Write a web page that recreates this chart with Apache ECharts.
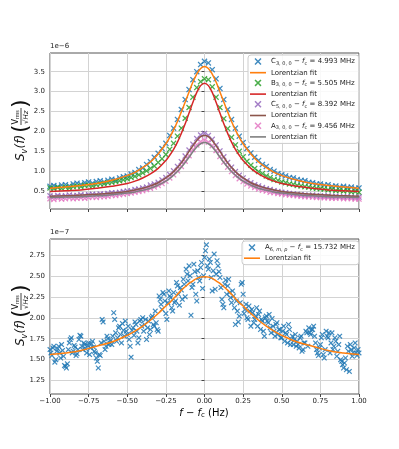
<!DOCTYPE html>
<html>
<head>
<meta charset="utf-8">
<script src="https://cdn.jsdelivr.net/npm/echarts@6/dist/echarts.min.js"></script>
<style>
html, body { margin: 0; padding: 0; background: #fff; }
#chart { width: 399px; height: 449px; }
</style>
</head>
<body>
<div id="chart"></div>
<script>
// sample positions (f - fc, Hz)
const freqTop = Array.from({ length: 81 }, (_, i) => -1 + i * 0.025);
const freqBottom = Array.from({ length: 161 }, (_, i) => -1 + i * 0.0125);
const freqBottomMid = Array.from({ length: 160 }, (_, i) => -0.99375 + i * 0.0125);
const fitX = [-1, -0.9, -0.8, -0.7, -0.6, -0.5, -0.45, -0.4, -0.35, -0.3, -0.25, -0.225, -0.2, -0.175, -0.15, -0.125, -0.1, -0.075, -0.05, -0.025,
  0, 0.025, 0.05, 0.075, 0.1, 0.125, 0.15, 0.175, 0.2, 0.225, 0.25, 0.3, 0.35, 0.4, 0.45, 0.5, 0.6, 0.7, 0.8, 0.9, 1];

// top panel, units of 1e-6
const dataC3 = [0.62,0.64,0.61,0.65,0.66,0.63,0.68,0.70,0.67,0.71,0.73,0.70,0.74,0.76,0.73,0.77,0.80,0.78,0.83,0.86,
  0.88,0.93,0.97,1.04,1.08,1.17,1.24,1.35,1.45,1.57,1.70,1.90,2.08,2.30,2.55,2.80,3.05,3.30,3.50,3.68,
  3.76,
  3.72,3.55,3.32,3.08,2.80,2.55,2.30,2.08,1.88,1.72,1.57,1.46,1.35,1.27,1.17,1.12,1.04,1.00,0.94,0.91,
  0.88,0.84,0.83,0.79,0.77,0.76,0.72,0.71,0.68,0.68,0.65,0.66,0.62,0.63,0.60,0.62,0.59,0.60,0.57,0.58];
const dataB3 = [0.58,0.56,0.59,0.57,0.60,0.58,0.61,0.63,0.61,0.64,0.65,0.63,0.66,0.68,0.68,0.71,0.72,0.74,0.76,0.78,
  0.81,0.84,0.87,0.91,0.96,1.01,1.07,1.13,1.22,1.31,1.42,1.55,1.70,1.88,2.08,2.33,2.60,2.86,3.10,3.25,
  3.32,
  3.30,3.12,2.86,2.60,2.32,2.07,1.85,1.66,1.50,1.36,1.25,1.15,1.07,0.99,0.94,0.88,0.84,0.79,0.77,0.73,
  0.71,0.68,0.67,0.64,0.63,0.61,0.60,0.58,0.57,0.56,0.55,0.53,0.54,0.51,0.52,0.50,0.51,0.48,0.49,0.47];
const dataC5 = [0.38,0.36,0.39,0.37,0.38,0.40,0.38,0.39,0.41,0.39,0.41,0.42,0.41,0.43,0.42,0.44,0.46,0.45,0.47,0.49,
  0.50,0.51,0.54,0.55,0.58,0.60,0.65,0.68,0.72,0.78,0.84,0.92,1.01,1.12,1.24,1.38,1.53,1.68,1.82,1.91,
  1.95,
  1.90,1.80,1.66,1.51,1.36,1.22,1.10,0.99,0.90,0.83,0.76,0.71,0.66,0.63,0.59,0.56,0.54,0.51,0.49,0.47,
  0.46,0.44,0.43,0.42,0.41,0.40,0.39,0.40,0.38,0.38,0.37,0.38,0.36,0.37,0.36,0.35,0.36,0.35,0.34,0.35];
const dataA3 = [0.31,0.29,0.32,0.30,0.31,0.33,0.31,0.32,0.33,0.32,0.34,0.35,0.34,0.36,0.36,0.37,0.39,0.39,0.41,0.42,
  0.44,0.45,0.47,0.49,0.51,0.54,0.57,0.60,0.64,0.69,0.75,0.83,0.91,1.01,1.12,1.25,1.39,1.54,1.66,1.74,
  1.78,
  1.73,1.64,1.52,1.37,1.23,1.10,0.99,0.89,0.81,0.74,0.68,0.63,0.59,0.55,0.52,0.50,0.47,0.46,0.44,0.43,
  0.41,0.40,0.39,0.38,0.37,0.36,0.36,0.35,0.34,0.34,0.33,0.33,0.32,0.32,0.33,0.31,0.32,0.31,0.30,0.30];

const fitC3 = [0.57,0.60,0.64,0.69,0.77,0.89,0.97,1.09,1.23,1.43,1.69,1.85,2.04,2.25,2.49,2.74,2.99,3.24,3.44,3.58,
  3.63,3.58,3.44,3.24,2.99,2.74,2.49,2.25,2.04,1.85,1.69,1.43,1.23,1.09,0.97,0.89,0.77,0.69,0.64,0.60,0.57];
const fitB3 = [0.49,0.51,0.53,0.57,0.62,0.69,0.75,0.83,0.93,1.07,1.27,1.40,1.55,1.73,1.95,2.19,2.46,2.73,2.98,3.15,
  3.21,3.15,2.98,2.73,2.46,2.19,1.95,1.73,1.55,1.40,1.27,1.07,0.93,0.83,0.75,0.69,0.62,0.57,0.53,0.51,0.49];
const fitC5 = [0.37,0.38,0.40,0.42,0.45,0.49,0.53,0.57,0.63,0.71,0.83,0.90,0.99,1.09,1.21,1.35,1.50,1.64,1.77,1.87,
  1.90,1.87,1.77,1.64,1.50,1.35,1.21,1.09,0.99,0.90,0.83,0.71,0.63,0.57,0.53,0.49,0.45,0.42,0.40,0.38,0.37];
const fitA3 = [0.34,0.35,0.36,0.38,0.41,0.45,0.48,0.52,0.57,0.65,0.75,0.82,0.90,0.99,1.10,1.22,1.35,1.49,1.61,1.69,
  1.72,1.69,1.61,1.49,1.35,1.22,1.10,0.99,0.90,0.82,0.75,0.65,0.57,0.52,0.48,0.45,0.41,0.38,0.36,0.35,0.34];

// bottom panel, units of 1e-7
const dataA6 = [1.62,1.55,1.66,1.50,1.63,1.58,1.68,1.54, 1.42,1.45,1.70,1.76,1.60,1.65,1.57,1.74,
  1.78,1.62,1.68,1.58,1.70,1.64,1.72,1.60, 1.52,1.40,1.55,1.98,1.72,1.66,1.75,1.70,
  1.68,2.06,1.82,1.76,1.90,1.70,1.85,1.96, 1.80,1.74,1.53,1.88,1.95,1.84,1.76,1.98,
  2.00,1.92,1.74,1.96,1.86,2.02,1.90,1.94, 1.84,2.22,2.10,2.28,2.05,2.18,2.26,2.12,
  2.30,2.20,2.38,2.15,2.33,2.46,2.25,2.52, 2.62,2.03,2.40,2.55,2.20,2.48,2.60,2.35,
  2.72,2.87,2.58,2.66,2.32,2.76,2.52,2.62, 2.48,2.22,2.12,2.45,2.38,2.30,2.18,2.26,
  1.92,2.08,2.02,2.40,2.28,2.10,2.00,2.14, 1.90,2.06,1.98,2.12,2.04,1.86,1.96,1.78,
  2.02,1.94,1.88,1.99,1.84,1.92,1.80,1.86, 1.76,1.90,1.82,1.70,1.86,1.74,1.68,1.80,
  1.72,1.64,1.78,1.62,1.70,1.82,1.88,1.80, 1.86,1.78,1.62,1.55,1.68,1.80,1.52,1.84,
  1.76,1.58,1.82,1.66,1.72,1.60,1.78,1.48, 1.40,1.52,1.66,1.36,1.62,1.58,1.70,1.55,
  1.58];
const dataA6Mid = [1.58,1.64,1.47,1.60,1.66,1.52,1.61,1.43, 1.40,1.62,1.74,1.58,1.67,1.55,1.62,1.79,
  1.66,1.70,1.63,1.67,1.56,1.69,1.65,1.58, 1.48,1.56,1.70,1.95,1.62,1.78,1.68,1.73,
  1.78,1.98,1.72,1.88,1.80,1.93,1.78,1.84, 1.90,1.66,1.85,1.79,1.92,1.70,1.96,1.90,
  1.84,1.98,1.88,1.80,2.00,1.92,2.08,1.86, 2.26,2.16,2.30,2.20,1.98,2.32,2.24,2.08,
  2.18,2.42,2.28,2.36,2.22,2.40,2.58,2.44, 2.50,2.36,2.64,2.28,2.56,2.44,2.66,2.50,
  2.80,2.62,2.70,2.48,2.56,2.34,2.68,2.55, 2.36,2.16,2.40,2.28,2.46,2.24,2.32,2.12,
  2.20,1.95,2.18,2.42,2.05,2.16,1.98,2.08, 2.10,1.94,2.02,1.90,2.08,1.98,1.84,2.00,
  1.96,2.04,1.82,1.90,1.78,1.94,1.86,1.76, 1.84,1.72,1.80,1.92,1.68,1.78,1.74,1.66,
  1.68,1.76,1.60,1.70,1.84,1.66,1.82,1.86, 1.90,1.70,1.58,1.64,1.76,1.56,1.62,1.78,
  1.82,1.70,1.62,1.76,1.54,1.68,1.50,1.44, 1.46,1.38,1.60,1.68,1.54,1.64,1.58,1.62];
const fitA6 = [1.56,1.58,1.61,1.66,1.71,1.79,1.84,1.90,1.97,2.05,2.14,2.18,2.23,2.28,2.33,2.37,2.41,2.44,2.47,2.485,
  2.49,2.485,2.47,2.44,2.41,2.37,2.33,2.28,2.23,2.18,2.14,2.05,1.97,1.90,1.84,1.79,1.71,1.66,1.61,1.58,1.56];

const topTicks = [0.5, 1.0, 1.5, 2.0, 2.5, 3.0, 3.5];
const bottomTicks = [1.25, 1.5, 1.75, 2.0, 2.25, 2.5, 2.75];

const legendText = {
  C3: '{n|C}{s|3, 0, 0}{n| − }{i|f}{s|c}{n| = 4.993 MHz}',
  B3: '{n|B}{s|3, 0, 0}{n| − }{i|f}{s|c}{n| = 5.505 MHz}',
  C5: '{n|C}{s|5, 0, 0}{n| − }{i|f}{s|c}{n| = 8.392 MHz}',
  A3: '{n|A}{s|3, 0, 0}{n| − }{i|f}{s|c}{n| = 9.456 MHz}',
  A6: '{n|A}{s|6, }{si|m}{s|, }{si|p}{n| − }{i|f}{s|c}{n| = 15.732 MHz}'
};

const FONT = 'DejaVu Sans';
const xMark = 'path://M0,1.5L1.5,0L5,3.5L8.5,0L10,1.5L6.5,5L10,8.5L8.5,10L5,6.5L1.5,10L0,8.5L3.5,5Z';
const lineMark = 'path://M0,0L16,0L16,1.6L0,1.6Z';
const pts = (xs, ys) => ys.map((v, i) => [xs[i], v]);

const richStyle = {
  n: { fontSize: 7, fontFamily: FONT, color: '#222', lineHeight: 9 },
  i: { fontSize: 7, fontFamily: FONT, fontStyle: 'italic', color: '#222', lineHeight: 9 },
  s: { fontSize: 5, fontFamily: FONT, color: '#222', lineHeight: 5, verticalAlign: 'bottom' },
  si: { fontSize: 5, fontFamily: FONT, fontStyle: 'italic', color: '#222', lineHeight: 5, verticalAlign: 'bottom' }
};

function scatter(name, points, color, g, size) {
  return {
    name: name, type: 'scatter', xAxisIndex: g, yAxisIndex: g,
    data: points, symbol: xMark, symbolSize: size,
    itemStyle: { color: color, opacity: 0.85 }
  };
}
function fit(name, data, color, g) {
  return {
    name: name, type: 'line', xAxisIndex: g, yAxisIndex: g,
    data: pts(fitX, data), symbol: 'none', smooth: 0.4,
    lineStyle: { color: color, width: 1.5 }, itemStyle: { color: color }
  };
}

function yLabel(cx, cy) {
  const t = (x, y, text, font) => ({ type: 'text', x: x, y: y,
    style: { text: text, font: font, fill: '#111', verticalAlign: 'middle', align: 'left' } });
  return {
    type: 'group', x: cx, y: cy, rotation: Math.PI / 2,
    children: [
      t(-29, 0, 'S', 'italic 12px "DejaVu Sans"'),
      t(-21.5, 3.5, 'v', 'italic 8px "DejaVu Sans"'),
      t(-16.5, 0, '(f)', 'italic 12px "DejaVu Sans"'),
      t(-1, 0, '(', '22px "DejaVu Sans"'),
      t(7.5, -5, 'V', '8px "DejaVu Sans"'),
      t(12.5, -3.5, 'rms', '5px "DejaVu Sans"'),
      { type: 'line', shape: { x1: 7, y1: 0, x2: 24, y2: 0 }, style: { stroke: '#111', lineWidth: 0.8 } },
      t(8, 5, '√Hz', 'italic 7px "DejaVu Sans"'),
      t(24, 0, ')', '22px "DejaVu Sans"')
    ]
  };
}

function xAxis(g, labels) {
  return {
    type: 'value', gridIndex: g, min: -1, max: 1, interval: 0.25,
    axisLine: { show: false },
    axisTick: { show: true, length: 3, lineStyle: { color: '#444' } },
    axisLabel: { show: labels, fontSize: 7, fontFamily: FONT, color: '#222', margin: 4,
      formatter: v => v.toFixed(2).replace('-', '−') },
    splitLine: { show: true, lineStyle: { color: '#d3d3d3', width: 1 } }
  };
}
function yAxis(g, min, max, ticks, digits) {
  return {
    type: 'value', gridIndex: g, min: min, max: max,
    axisLine: { show: false },
    axisTick: { show: true, length: 3, customValues: ticks, lineStyle: { color: '#444' } },
    axisLabel: { fontSize: 7, fontFamily: FONT, color: '#222', margin: 5, customValues: ticks,
      formatter: v => v.toFixed(digits) },
    splitLine: { show: true, lineStyle: { color: '#d3d3d3', width: 1 } }
  };
}

function legendBox(left, top, gap, items) {
  return {
    left: left, top: top, orient: 'vertical', itemWidth: 16, itemHeight: 7, itemGap: gap,
    padding: [3, 4, 3, 2], backgroundColor: 'rgba(255,255,255,0.85)',
    borderColor: '#ccc', borderWidth: 1, borderRadius: 3,
    data: items.map(n => ({ name: n, icon: n.indexOf('fit') === 0 ? lineMark : xMark })),
    formatter: n => legendText[n] || '{n|Lorentzian fit}',
    textStyle: { rich: richStyle }
  };
}

const chart = echarts.init(document.getElementById('chart'));
chart.setOption({
  animation: false,
  backgroundColor: '#fff',
  grid: [
    { left: 50, top: 53, width: 309, height: 156, show: true, borderColor: '#555', borderWidth: 1 },
    { left: 50, top: 239, width: 309, height: 155, show: true, borderColor: '#555', borderWidth: 1 }
  ],
  xAxis: [xAxis(0, false), xAxis(1, true)],
  yAxis: [yAxis(0, 0.05, 3.97, topTicks, 1), yAxis(1, 1.09, 2.94, bottomTicks, 2)],
  legend: [
    legendBox(248, 55, 3.2, ['C3', 'fitC3', 'B3', 'fitB3', 'C5', 'fitC5', 'A3', 'fitA3']),
    legendBox(242, 241, 2.7, ['A6', 'fitA6'])
  ],
  graphic: [
    { type: 'text', x: 50, y: 46, style: { text: '1e−6', font: '7px "DejaVu Sans"', fill: '#222', verticalAlign: 'middle' } },
    { type: 'text', x: 50, y: 232, style: { text: '1e−7', font: '7px "DejaVu Sans"', fill: '#222', verticalAlign: 'middle' } },
    yLabel(21, 132),
    yLabel(21, 317),
    { type: 'text', x: 204, y: 413, style: {
      text: '{i|f}{n| − }{i|f}{s|c}{n| (Hz)}', align: 'center', verticalAlign: 'middle',
      rich: {
        n: { fontSize: 10, fontFamily: FONT, color: '#111', lineHeight: 12 },
        i: { fontSize: 10, fontFamily: FONT, fontStyle: 'italic', color: '#111', lineHeight: 12 },
        s: { fontSize: 7, fontFamily: FONT, color: '#111', lineHeight: 7, verticalAlign: 'bottom' }
      } } }
  ],
  series: [
    scatter('C3', pts(freqTop, dataC3), '#1f77b4', 0, 6),
    fit('fitC3', fitC3, '#ff7f0e', 0),
    scatter('B3', pts(freqTop, dataB3), '#2ca02c', 0, 6),
    fit('fitB3', fitB3, '#d62728', 0),
    scatter('C5', pts(freqTop, dataC5), '#9467bd', 0, 6),
    fit('fitC5', fitC5, '#8c564b', 0),
    scatter('A3', pts(freqTop, dataA3), '#e377c2', 0, 6),
    fit('fitA3', fitA3, '#7f7f7f', 0),
    scatter('A6', pts(freqBottom, dataA6).concat(pts(freqBottomMid, dataA6Mid)), '#1f77b4', 1, 5.5),
    fit('fitA6', fitA6, '#ff7f0e', 1)
  ]
});
</script>
</body>
</html>
